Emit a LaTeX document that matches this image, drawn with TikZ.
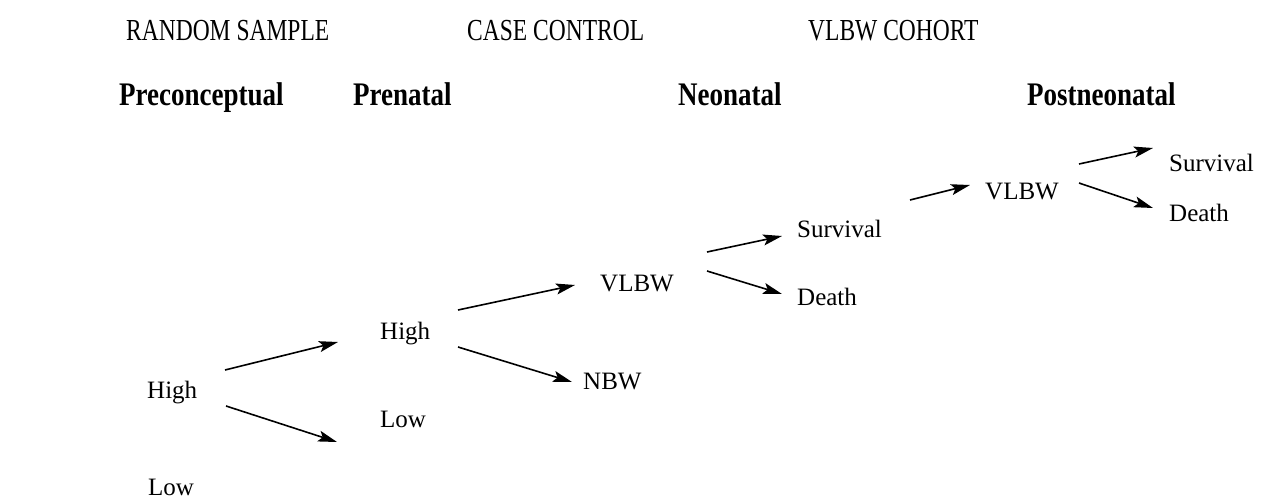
\documentclass[tikz,border=0pt]{standalone}
\usepackage{fontspec}
\setmainfont{Liberation Serif}
\usetikzlibrary{arrows.meta}
\newcommand{\tallA}[1]{\scalebox{1}[1.3]{#1}}
\newcommand{\tallB}[1]{\scalebox{1}[1.22]{#1}}
\begin{document}
\begin{tikzpicture}[x=1pt,y=-1pt,
  lbl/.style={anchor=base west,inner sep=0pt,font=\fontsize{25}{30}\selectfont},
  head/.style={anchor=base west,inner sep=0pt,font=\fontsize{23.5}{28}\selectfont},
  phase/.style={anchor=base west,inner sep=0pt,font=\fontsize{27}{32}\selectfont\bfseries},
  arr/.style={line width=1.6pt,-{Stealth[length=19pt,width=11pt,inset=4pt]}}]
\useasboundingbox[fill=white] (0,0) rectangle (1269,503);
% column headings
\node[head] (hr) at (126,41) {\tallA{RANDOM SAMPLE}};
\node[head] (hc) at (467,41) {\tallA{CASE CONTROL}};
\node[head] (hv) at (808,41) {\tallA{VLBW COHORT}};
\node[phase] (p1) at (119,106) {\tallB{Preconceptual}};
\node[phase] (p2) at (353,106) {\tallB{Prenatal}};
\node[phase] (p3) at (678,106) {\tallB{Neonatal}};
\node[phase] (p4) at (1027,106) {\tallB{Postneonatal}};
% tree
\node[lbl] (h1) at (147,398) {High};
\node[lbl] (l1) at (148,495) {Low};
\node[lbl] (h2) at (380,339) {High};
\node[lbl] (l2) at (380,427) {Low};
\node[lbl] (v1) at (600,291) {VLBW};
\node[lbl] (n1) at (583,389) {NBW};
\node[lbl] (s1) at (797,237) {Survival};
\node[lbl] (d1) at (797,305) {Death};
\node[lbl] (v2) at (985,199) {VLBW};
\node[lbl] (s2) at (1169,171) {Survival};
\node[lbl] (d2) at (1169,221) {Death};
% connectors
\draw[arr] ([shift={(78,-28)}]h1.base west) -- ([shift={(-42,3)}]h2.base west);
\draw[arr] ([shift={(79,8)}]h1.base west) -- ([shift={(-43,15)}]l2.base west);
\draw[arr] ([shift={(78,-29)}]h2.base west) -- ([shift={(-25,-6)}]v1.base west);
\draw[arr] ([shift={(78,8)}]h2.base west) -- ([shift={(-11,-7)}]n1.base west);
\draw[arr] ([shift={(107,-39)}]v1.base west) -- ([shift={(-15,-1)}]s1.base west);
\draw[arr] ([shift={(107,-20)}]v1.base west) -- ([shift={(-15,-11)}]d1.base west);
\draw[arr] ([shift={(113,-37)}]s1.base west) -- ([shift={(-15,-14)}]v2.base west);
\draw[arr] ([shift={(94,-35)}]v2.base west) -- ([shift={(-16,-23)}]s2.base west);
\draw[arr] ([shift={(94,-16)}]v2.base west) -- ([shift={(-16,-13)}]d2.base west);
\end{tikzpicture}
\end{document}
